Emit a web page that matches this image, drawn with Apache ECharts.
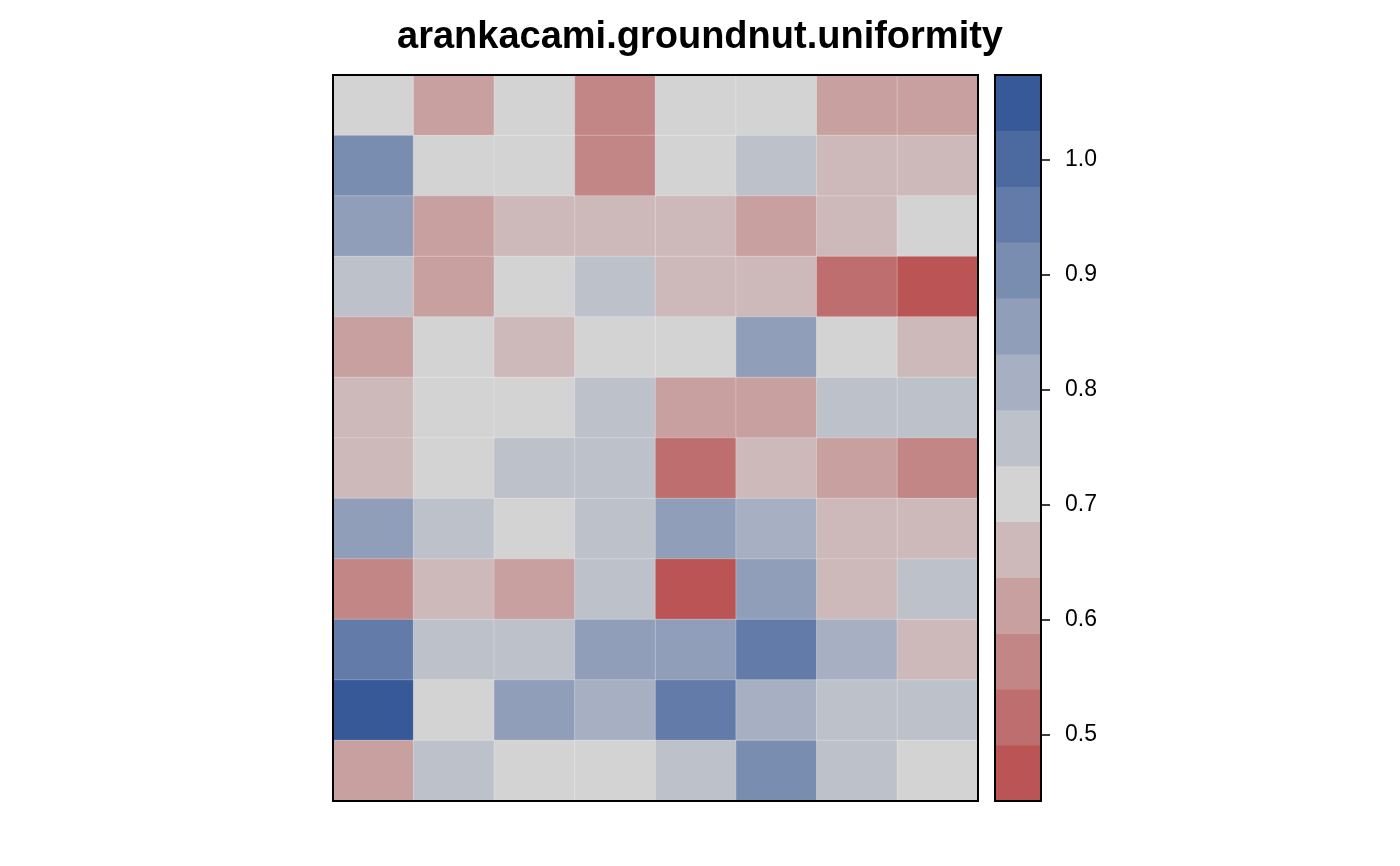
<!DOCTYPE html>
<html>
<head>
<meta charset="utf-8">
<script src="https://cdn.jsdelivr.net/npm/echarts@6/dist/echarts.min.js"></script>
<style>
  html, body { margin: 0; padding: 0; background: #fff; }
  #chart { width: 1400px; height: 866px; }
</style>
</head>
<body>
<div id="chart"></div>
<script>
// field layout: 8 columns, 12 rows (row 1 at the top)
const columns = ['1', '2', '3', '4', '5', '6', '7', '8'];
const rows = ['1', '2', '3', '4', '5', '6', '7', '8', '9', '10', '11', '12'];

// yield per plot, read row by row from the top of the field
const row01 = [0.71, 0.61, 0.71, 0.56, 0.71, 0.71, 0.61, 0.61];
const row02 = [0.905, 0.71, 0.71, 0.56, 0.71, 0.76, 0.66, 0.66];
const row03 = [0.855, 0.61, 0.66, 0.66, 0.66, 0.61, 0.66, 0.71];
const row04 = [0.76, 0.61, 0.71, 0.76, 0.66, 0.66, 0.51, 0.46];
const row05 = [0.61, 0.71, 0.66, 0.71, 0.71, 0.855, 0.71, 0.66];
const row06 = [0.66, 0.71, 0.71, 0.76, 0.61, 0.61, 0.76, 0.76];
const row07 = [0.66, 0.71, 0.76, 0.76, 0.51, 0.66, 0.61, 0.56];
const row08 = [0.855, 0.76, 0.71, 0.76, 0.855, 0.81, 0.66, 0.66];
const row09 = [0.56, 0.66, 0.61, 0.76, 0.46, 0.855, 0.66, 0.76];
const row10 = [0.955, 0.76, 0.76, 0.855, 0.855, 0.955, 0.81, 0.66];
const row11 = [1.05, 0.71, 0.855, 0.81, 0.955, 0.81, 0.76, 0.76];
const row12 = [0.61, 0.76, 0.71, 0.71, 0.76, 0.905, 0.76, 0.71];
const yieldRows = [row01, row02, row03, row04, row05, row06, row07, row08, row09, row10, row11, row12];

// colour key: 13 equal bins, lowest first
const keyMin = 0.4426;
const keyMax = 1.0739;
const keyColors = [
  '#bb5555', '#be6e6e', '#c38686', '#c8a0a0', '#cdb9b9', '#d3d3d3', '#bdc1c9',
  '#a7b0c2', '#909eba', '#798db0', '#637ba8', '#4c69a0', '#385998'
];
const keyTicks = [0.5, 0.6, 0.7, 0.8, 0.9, 1.0];

const binWidth = (keyMax - keyMin) / keyColors.length;
const pieces = keyColors.map((c, i) => ({
  gte: keyMin + i * binWidth,
  lt: keyMin + (i + 1) * binWidth,
  color: c
}));

const fieldData = [];
yieldRows.forEach((r, ri) => {
  r.forEach((v, ci) => fieldData.push([ci, ri, v]));
});
const keyBins = keyColors.map((c, i) => String(i));
const keyData = keyColors.map((c, i) => [0, i, keyMin + (i + 0.5) * binWidth]);

const chart = echarts.init(document.getElementById('chart'));
chart.setOption({
  animation: false,
  title: {
    text: 'arankacami.groundnut.uniformity',
    left: 'center',
    top: 14,
    textStyle: { fontFamily: 'Liberation Sans', fontWeight: 'bold', fontSize: 38, color: '#000' }
  },
  visualMap: {
    type: 'piecewise',
    show: false,
    seriesIndex: [0, 1],
    pieces: pieces
  },
  grid: [
    { left: 333, top: 75, width: 645, height: 726, show: true, z: 10,
      backgroundColor: 'transparent', borderColor: '#000', borderWidth: 2 },
    { left: 995, top: 75, width: 46, height: 726, show: true, z: 10,
      backgroundColor: 'transparent', borderColor: '#000', borderWidth: 2 }
  ],
  xAxis: [
    { type: 'category', gridIndex: 0, data: columns, show: false },
    { type: 'category', gridIndex: 1, data: ['key'], show: false }
  ],
  yAxis: [
    { type: 'category', gridIndex: 0, data: rows, inverse: true, show: false },
    { type: 'category', gridIndex: 1, data: keyBins, show: false },
    {
      type: 'value', gridIndex: 1, position: 'right',
      min: keyMin, max: keyMax,
      splitLine: { show: false },
      axisLine: { show: false },
      axisTick: { show: true, length: 9, customValues: keyTicks,
        lineStyle: { color: '#000', width: 1.5 } },
      axisLabel: {
        customValues: keyTicks, margin: 24,
        formatter: v => v.toFixed(1),
        fontFamily: 'Liberation Sans', fontSize: 23, color: '#000'
      }
    }
  ],
  series: [
    {
      type: 'heatmap',
      xAxisIndex: 0, yAxisIndex: 0,
      data: fieldData,
      itemStyle: { borderColor: 'rgba(255,255,255,0.25)', borderWidth: 1 },
      emphasis: { disabled: true }
    },
    {
      type: 'heatmap',
      xAxisIndex: 1, yAxisIndex: 1,
      data: keyData,
      emphasis: { disabled: true }
    }
  ]
});
</script>
</body>
</html>
